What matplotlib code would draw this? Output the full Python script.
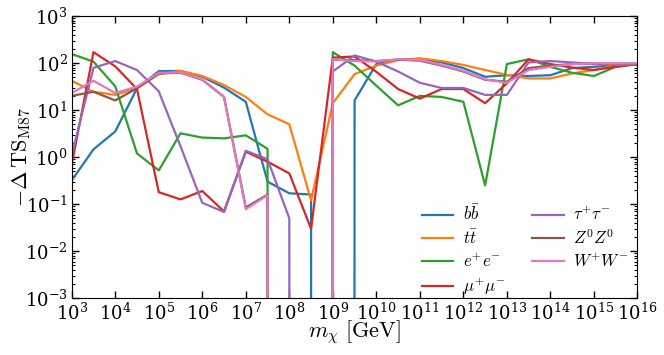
import numpy as np
import matplotlib
matplotlib.use("Agg")
import matplotlib.pyplot as plt
from matplotlib.ticker import LogLocator, NullLocator, NullFormatter

plt.rcParams['mathtext.fontset'] = 'cm'
plt.rcParams['font.family'] = ['DejaVu Serif']

log_mass = [3.0, 3.5, 4.0, 4.5, 5.0, 5.5, 6.0, 6.5, 7.0, 7.5, 8.0, 8.5, 9.0, 9.5,
            10.0, 10.5, 11.0, 11.5, 12.0, 12.5, 13.0, 13.5, 14.0, 14.5, 15.0, 15.5, 16.0]
mass = [10.0 ** v for v in log_mass]

bb = [0.32, 1.46, 3.5, 29, 67, 68, 51, 30, 15, 0.30, 0.17, 0.16, 0, 16,
      95, 118, 122, 103, 78, 51, 55, 53, 55, 78, 83, 90, 95]
tt = [42, 24.5, 21, 29, 58, 68, 53, 34, 19, 8.1, 5.0, 0.12, 14, 58,
      88, 115, 126, 110, 91, 71, 56, 47, 47, 60, 71, 88, 95]
ee = [155, 107, 32, 1.2, 0.52, 3.2, 2.6, 2.5, 2.9, 1.5, 0, 0, 170, 88,
      33, 12.6, 20, 19, 15, 0.25, 95, 120, 83, 62, 53, 83, 95]
mumu = [0.7, 170, 85, 28, 0.18, 0.126, 0.19, 0.07, 1.3, 0.8, 0.45, 0.030, 130, 138,
        65, 28, 17.5, 28, 28, 14, 37, 120, 95, 80, 71, 83, 95]
tautau = [1.1, 79, 110, 71, 25, 1.7, 0.107, 0.068, 1.36, 0.9, 0.05, 0, 66, 145,
          107, 66, 38, 29.5, 29.5, 21, 21, 103, 110, 103, 95, 90, 95]
zz = [20, 24.5, 16, 29, 60, 62, 44, 19, 0.085, 0.16, 0, 0, 118, 115,
      110, 118, 112, 88, 66, 44, 40, 78, 88, 95, 97, 97, 97]
ww = [23, 42, 23, 31.5, 62, 63, 45, 19, 0.078, 0.155, 0, 0, 120, 110,
      108, 120, 116, 91, 68, 45, 38, 71, 83, 95, 98, 98, 98]

series = [
    (bb, r"$b\bar{b}$", "#1f77b4"),
    (tt, r"$t\bar{t}$", "#ff7f0e"),
    (ee, r"$e^{+}e^{-}$", "#2ca02c"),
    (mumu, r"$\mu^{+}\mu^{-}$", "#d62728"),
    (tautau, r"$\tau^{+}\tau^{-}$", "#9467bd"),
    (zz, r"$Z^{0}Z^{0}$", "#8c564b"),
    (ww, r"$W^{+}W^{-}$", "#e377c2"),
]

fig = plt.figure(figsize=(6.64, 3.55), dpi=100)
ax = fig.add_axes([0.108, 0.160, 0.852, 0.795])
ax.set_xscale('log')
ax.set_yscale('log', nonpositive='clip')

for vals, lab, col in series:
    ax.plot(mass, vals, color=col, lw=1.6, label=lab)

ax.set_xlim(1e3, 1e16)
ax.set_ylim(1e-3, 1e3)
ax.xaxis.set_major_locator(LogLocator(base=10, numticks=20))
ax.xaxis.set_minor_locator(NullLocator())
ax.yaxis.set_major_locator(LogLocator(base=10, numticks=20))
ax.yaxis.set_minor_locator(LogLocator(base=10, subs=np.arange(2, 10), numticks=20))
ax.yaxis.set_minor_formatter(NullFormatter())
ax.tick_params(which='both', direction='in', top=True, right=True, labelsize=13)
ax.tick_params(which='major', length=5, width=1, pad=3)
ax.tick_params(which='minor', length=2.5, width=0.8)

ax.set_xlabel(r"$m_\chi\ [\mathrm{GeV}]$", fontsize=16)
ax.set_ylabel(r"$-\Delta\,\mathrm{TS}_{\mathrm{M87}}$", fontsize=16)
ax.xaxis.set_label_coords(0.5, -0.072)
ax.yaxis.set_label_coords(-0.068, 0.5)

ax.legend(ncol=2, frameon=False, fontsize=12, handlelength=1.9, handletextpad=0.55,
          loc='upper left', bbox_to_anchor=(0.607, 0.355), borderaxespad=0.0,
          columnspacing=1.6, labelspacing=0.3)

fig.savefig("out.png", dpi=100)
